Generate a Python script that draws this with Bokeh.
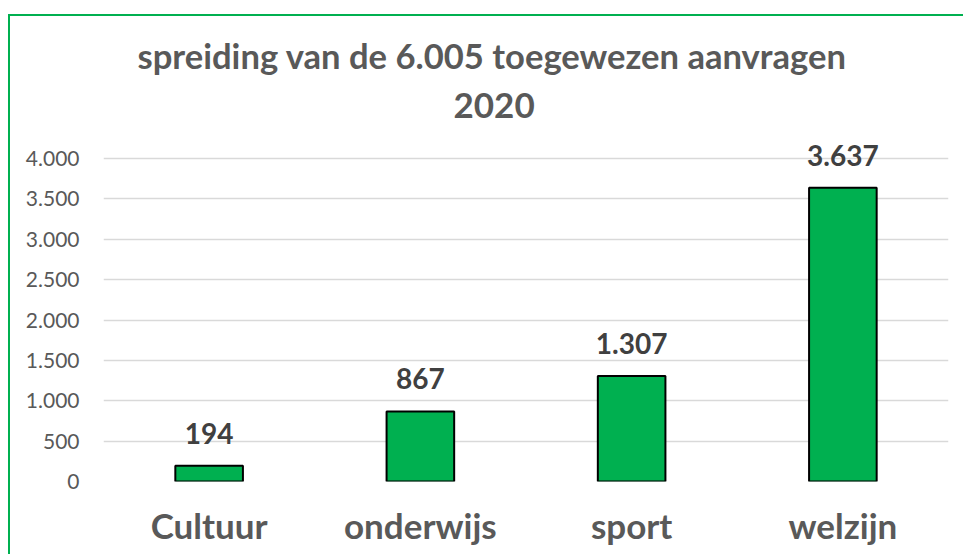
from bokeh.plotting import figure
from bokeh.models import ColumnDataSource, FactorRange, Range1d, FixedTicker, LabelSet, Title
from bokeh.core.properties import value
from bokeh.embed import file_html
from bokeh.resources import INLINE

title_line1 = "spreiding van de 6.005 toegewezen aanvragen"
title_line2 = "2020"
categories = ["Cultuur", "onderwijs", "sport", "welzijn"]
values = [194, 867, 1307, 3637]
value_labels = ["194", "867", "1.307", "3.637"]
y_ticks = [0, 500, 1000, 1500, 2000, 2500, 3000, 3500, 4000]
y_tick_labels = ["0", "500", "1.000", "1.500", "2.000", "2.500", "3.000", "3.500", "4.000"]

FONT = "Lato"
GREY = "#595959"

# canvas origin sits at page (10, 16); a 2px green edge is drawn above and left of it
OX, OY = 10, 16
W, H = 955, 540
FRAME_LEFT, FRAME_RIGHT = 103 - OX, 948 - OX
FRAME_TOP, FRAME_BOTTOM = 130 - OY, 481 - OY
TOP_TICK_Y = 158 - OY
y_end = y_ticks[-1] * (FRAME_BOTTOM - FRAME_TOP) / (FRAME_BOTTOM - TOP_TICK_Y)

p = figure(width=W, height=H, x_range=FactorRange(*categories), y_range=Range1d(0, y_end),
           output_backend="svg", toolbar_location=None,
           min_border_left=FRAME_LEFT, min_border_right=W - FRAME_RIGHT,
           min_border_top=FRAME_TOP, min_border_bottom=H - FRAME_BOTTOM)
p.styles = {"margin-left": f"{OX}px", "margin-top": f"{OY}px",
            "box-shadow": "-2px -2px 0 0 #00B050"}
p.outline_line_color = None

src = ColumnDataSource(dict(cat=categories, val=values, lab=value_labels))
p.vbar(x="cat", top="val", width=0.32, source=src, fill_color="#00B050",
       line_color="black", line_width=2)

p.add_layout(LabelSet(x="cat", y="val", text="lab", source=src, text_align="center",
                      text_baseline="bottom", y_offset=22, text_font=value(FONT),
                      text_font_style="bold", text_font_size="28px", text_color="#404040"))

p.xgrid.grid_line_color = None
p.ygrid.grid_line_color = "#D9D9D9"
p.ygrid.grid_line_width = 1.5

p.yaxis.ticker = FixedTicker(ticks=y_ticks)
p.yaxis.major_label_overrides = {t: l for t, l in zip(y_ticks, y_tick_labels)}
p.yaxis.axis_line_color = None
p.yaxis.major_tick_line_color = None
p.yaxis.minor_tick_line_color = None
p.yaxis.major_label_standoff = 18
p.yaxis.major_label_text_font = FONT
p.yaxis.major_label_text_font_size = "21px"
p.yaxis.major_label_text_color = GREY

p.xaxis.axis_line_color = None
p.xaxis.major_tick_line_color = None
p.xaxis.major_label_standoff = 16
p.xaxis.major_label_text_font = FONT
p.xaxis.major_label_text_font_style = "bold"
p.xaxis.major_label_text_font_size = "35px"
p.xaxis.major_label_text_color = GREY

# title: line closest to the plot is added first
p.add_layout(Title(text=title_line2, align="left", offset=453 - 103, standoff=25,
                   text_font=FONT, text_font_style="bold", text_font_size="35px",
                   text_color=GREY), "above")
p.add_layout(Title(text=title_line1, align="left", offset=137 - 103, standoff=5,
                   text_font=FONT, text_font_style="bold", text_font_size="34.6px",
                   text_color=GREY), "above")

open("out.html", "w").write(file_html(p, INLINE))
